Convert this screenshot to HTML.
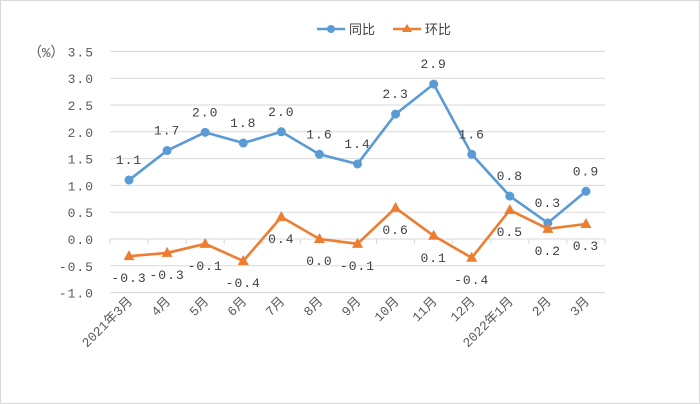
<!DOCTYPE html>
<html><head><meta charset="utf-8"><style>
body{margin:0;background:#fff}
svg{display:block;font-family:"Liberation Mono","Noto Sans CJK SC",monospace}
</style></head><body>
<svg id="c" width="700" height="404">
<rect x="0.5" y="0.5" width="699" height="403" fill="#fff" stroke="#d9d9d9"/>
<g>
<g><line x1="317" y1="29" x2="345" y2="29" stroke="#5b9bd5" stroke-width="2.5"/><circle cx="331" cy="29" r="4" fill="#5b9bd5"/><text x="349" y="34" font-size="13" fill="#404040">同比</text></g>
<g><line x1="393" y1="29" x2="421" y2="29" stroke="#ed7d31" stroke-width="2.5"/><path d="M407 24 L412 32 L402 32Z" fill="#ed7d31"/><text x="425" y="34" font-size="13" fill="#404040">环比</text></g>
</g>
<text x="28" y="57" font-size="14" fill="#595959">（%）</text>
</svg>
<script>
const categories=["2021年3月","4月","5月","6月","7月","8月","9月","10月","11月","12月","2022年1月","2月","3月"];
const yoyValues=[1.1,1.65,1.99,1.79,2.0,1.58,1.4,2.33,2.89,1.58,0.8,0.3,0.89];
const yoyLabels=["1.1","1.7","2.0","1.8","2.0","1.6","1.4","2.3","2.9","1.6","0.8","0.3","0.9"];
const momValues=[-0.32,-0.26,-0.09,-0.41,0.41,0.0,-0.09,0.58,0.06,-0.35,0.54,0.19,0.28];
const momLabels=["-0.3","-0.3","-0.1","-0.4","0.4","0.0","-0.1","0.6","0.1","-0.4","0.5","0.2","0.3"];
const yTicks=[-1.0,-0.5,0.0,0.5,1.0,1.5,2.0,2.5,3.0,3.5];
const svg=document.getElementById('c');const NS='http://www.w3.org/2000/svg';
const X0=110,X1=605,Y0=239,PU=53.6;
const bw=(X1-X0)/categories.length;
const xS=i=>X0+bw*(i+0.5);
const yS=v=>Y0-v*PU;
function mk(t,a,p){const e=document.createElementNS(NS,t);for(const k in a)e.setAttribute(k,a[k]);(p||svg).appendChild(e);return e;}
yTicks.forEach(v=>{
 const l=mk('line',{x1:X0,x2:X1,y1:yS(v),y2:yS(v),stroke:'#d9d9d9','stroke-width':1});
 
 
 const t=mk('text',{x:94,y:yS(v)+5,'font-size':13,fill:'#595959','text-anchor':'end','letter-spacing':1});
 t.textContent=v.toFixed(1);
 
 
});
for(let i=0;i<=categories.length;i++){
 const tk=mk('line',{x1:X0+bw*i,x2:X0+bw*i,y1:Y0,y2:Y0+5,stroke:'#d9d9d9'});
 
 
}
categories.forEach((c,i)=>{
 const x=xS(i)+4,y=302;
 const t=mk('text',{x:x,y:y,'font-size':13,fill:'#595959','text-anchor':'end',transform:`rotate(-45 ${x} ${y})`});
 t.textContent=c;
 
 
});
function series(vals,labels,color,shape,labOff,name){
 const g=mk('g',{});
 
 
 const p=mk('polyline',{points:vals.map((v,i)=>xS(i)+','+yS(v)).join(' '),fill:'none',stroke:color,'stroke-width':2.6,'stroke-linejoin':'round'},g);
 
 
 vals.forEach((v,i)=>{
  const x=xS(i),y=yS(v);let m;
  if(shape==='c')m=mk('circle',{cx:x,cy:y,r:4.5,fill:color},g);
  else m=mk('path',{d:`M${x} ${y-6}L${x+5.5} ${y+4}L${x-5.5} ${y+4}Z`,fill:color},g);
  
  
  const t=mk('text',{x:x,y:y+labOff,'font-size':13,fill:'#404040','text-anchor':'middle','letter-spacing':1},g);
  t.textContent=labels[i];
  
  
 });
}
series(yoyValues,yoyLabels,'#5b9bd5','c',-16,'yoy');
series(momValues,momLabels,'#ed7d31','t',26,'mom');
</script>
</body></html>
